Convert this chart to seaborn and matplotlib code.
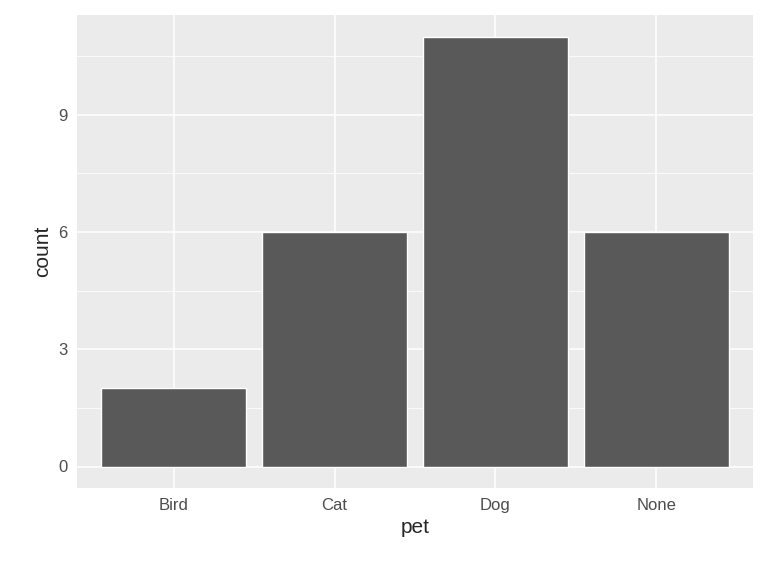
import matplotlib
matplotlib.use("Agg")
import matplotlib.pyplot as plt
import seaborn as sns
import pandas as pd

pets = ["Bird", "Cat", "Dog", "None"]
counts = [2, 6, 11, 6]
df = pd.DataFrame({"pet": pets, "count": counts})

sns.set_style("darkgrid", {"axes.facecolor": "#EBEBEB", "grid.color": "white"})
plt.rcParams['font.family'] = ['Liberation Sans', 'DejaVu Sans']

fig = plt.figure(figsize=(7.68, 5.76), dpi=100)
ax = fig.add_axes([77/768, 1-488/576, (753-77)/768, (488-15)/576])
sns.barplot(data=df, x="pet", y="count", color="#595959", saturation=1, width=0.9, ax=ax, zorder=3)

ax.set_ylim(-0.55, 11.55)
ax.set_xlim(-0.6, 3.6)
ax.set_yticks([0, 3, 6, 9])
ax.set_yticks([1.5, 4.5, 7.5, 10.5], minor=True)
ax.grid(True, which="major", color="white", linewidth=1.1)
ax.grid(True, which="minor", axis="y", color="white", linewidth=0.55)
ax.set_axisbelow(True)
for s in ax.spines.values():
    s.set_visible(False)
ax.tick_params(axis="both", which="major", labelsize=12, labelcolor="#4D4D4D",
               length=4, color="#333333", width=1, pad=3)
ax.tick_params(axis="both", which="minor", length=0)
ax.set_xlabel("pet", fontsize=15)
ax.set_ylabel("count", fontsize=15)
fig.savefig("out.png", dpi=100)
